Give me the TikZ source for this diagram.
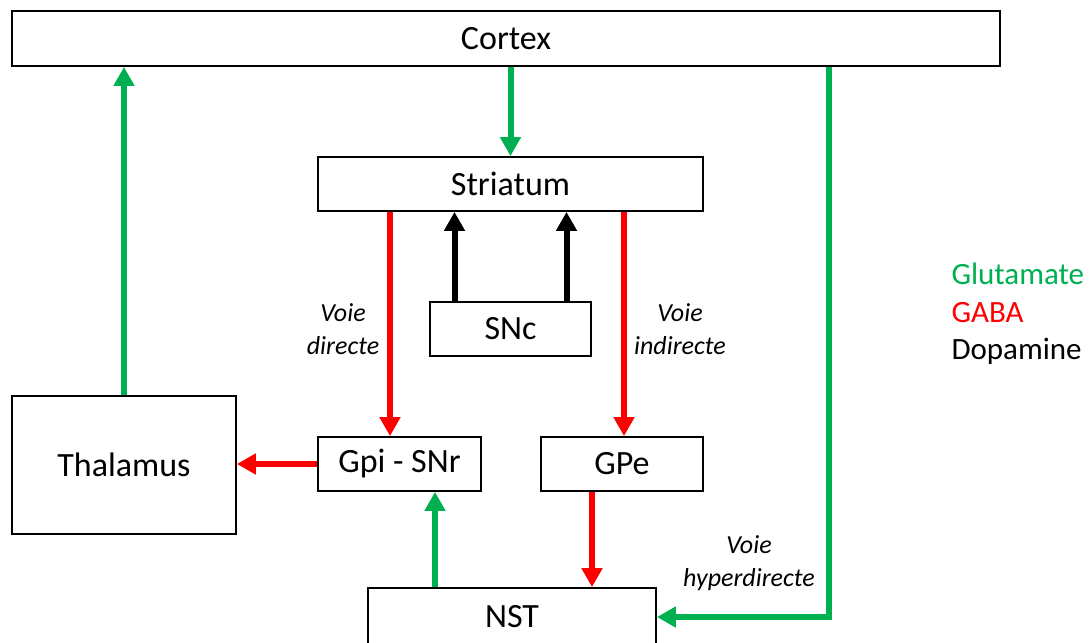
\documentclass[tikz,border=0pt]{standalone}
\usepackage{fontspec}
\setmainfont{Carlito}
\usetikzlibrary{arrows.meta}
\definecolor{glu}{RGB}{0,176,80}
\definecolor{gaba}{RGB}{255,0,0}

\begin{document}
\begin{tikzpicture}[x=1pt,y=-1pt,
	box/.style={draw, line width=1.8pt, inner sep=0pt, font=\fontsize{34}{40}\selectfont},
	voie/.style={align=center, font=\fontsize{26}{33}\selectfont\itshape},
	fl/.style={line width=6pt, -{Triangle[width=20pt,length=19pt]}},
	glut/.style={fl, glu},
	gab/.style={fl, gaba},
	dopa/.style={fl, black}]
	\useasboundingbox (0,0) rectangle (1091,642);
	% boxes
	\node [box, minimum width=988pt, minimum height=55pt] (cortex) at (506,38.5) {Cortex};
	\node [box, minimum width=385pt, minimum height=54pt] (striatum) at (510.5,184) {Striatum};
	\node [box, minimum width=161pt, minimum height=54pt] (snc) at (510.5,329) {SNc};
	\node [box, minimum width=224pt, minimum height=138pt] (thalamus) at (124,465) {Thalamus};
	\node [box, minimum width=163pt, minimum height=54pt] (gpi) at (399.5,464) {Gpi - SNr};
	\node [box, minimum width=162pt, minimum height=54pt] (gpe) at (622,464) {GPe};
	\node [box, minimum width=288pt, minimum height=58pt] (nst) at (512,617) {NST};
	% anchor points
	\coordinate (dir) at ([xshift=-9.5pt]gpi.north);
	\coordinate (ind) at ([xshift=2pt]gpe.north);
	\coordinate (da) at ([xshift=-56pt]snc.north);
	\coordinate (db) at ([xshift=56pt]snc.north);
	\coordinate (up) at ([xshift=35.5pt]gpi.south);
	\coordinate (dn) at ([xshift=-30pt]gpe.south);
	\coordinate (hyp) at ([xshift=323pt]cortex.south);
	% glutamate
	\draw [glut] (thalamus.north) -- (thalamus.north |- cortex.south);
	\draw [glut] (striatum.north |- cortex.south) -- (striatum.north);
	\draw [glut] (hyp) |- (nst.east);
	\draw [glut] (up |- nst.north) -- (up);
	% GABA
	\draw [gab] (dir |- striatum.south) -- (dir);
	\draw [gab] (ind |- striatum.south) -- (ind);
	\draw [gab] (gpi.west) -- (gpi.west -| thalamus.east);
	\draw [gab] (dn) -- (dn |- nst.north);
	% dopamine
	\draw [dopa] (da) -- (da |- striatum.south);
	\draw [dopa] (db) -- (db |- striatum.south);
	% labels
	\node [voie] (vdir) at (343,329) {Voie\\directe};
	\node [voie] (vind) at (680,329) {Voie\\indirecte};
	\node [voie] (vhyp) at (749,563) {Voie\\hyperdirecte};
	\node [align=left, anchor=west, font=\fontsize{31}{37.5}\selectfont] (legende) at (948,314) {\textcolor{glu}{Glutamate}\\\textcolor{gaba}{GABA}\\Dopamine};
\end{tikzpicture}
\end{document}
